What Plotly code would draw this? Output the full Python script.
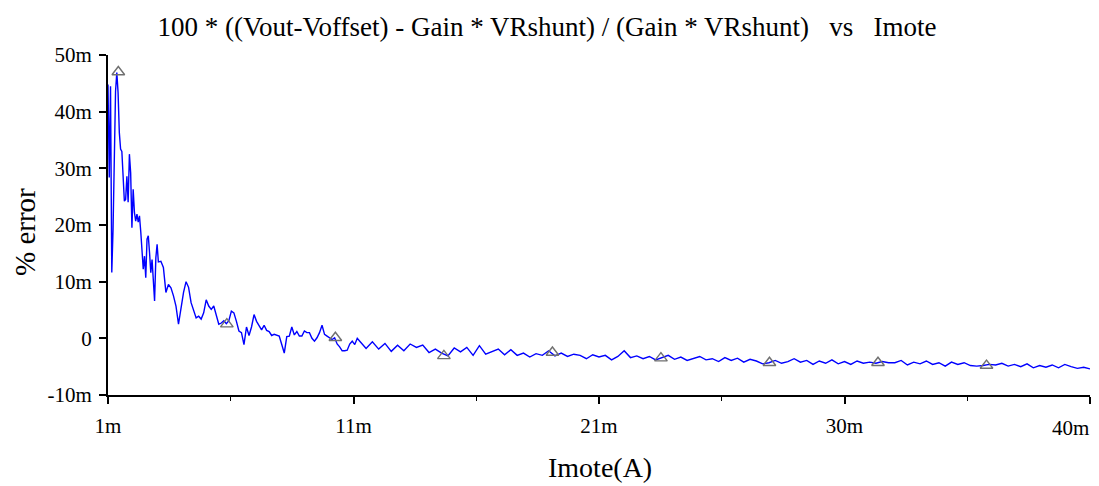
import plotly.graph_objects as go

# Imote sweep (mA) in three segments: start, step
seg_a_start, seg_a_step = 1.0, 0.05
seg_b_start, seg_b_step = 3.1, 0.1
seg_c_start, seg_c_step = 11.25, 0.25

# % error values (in milli-units, "m")
err_a = [44.8, 28.4, 44.5, 11.6, 19.2, 33.0, 43.6, 46.9, 43.4, 36.3,
         33.4, 33.0, 28.6, 24.2, 24.5, 28.6, 24.0, 32.5, 29.2, 19.5,
         26.3, 22.2, 20.7, 21.9, 20.5, 21.6, 18.9, 15.1, 12.2, 14.5,
         10.7, 17.5, 18.1, 15.1, 11.6, 13.9, 9.2, 6.6, 14.2, 16.6, 13.5]

err_b = [13.6, 12.5, 8.1, 9.5, 8.9, 7.5, 5.7, 2.5, 5.7, 8.1,
         10.0, 9.0, 6.3, 5.1, 3.6, 3.9, 3.4, 4.5, 6.8, 5.7,
         5.1, 5.7, 3.9, 2.5, 2.7, 3.1, 2.6, 3.1, 4.8, 4.5,
         3.0, 1.3, 1.0, -1.1, 2.0, 0.5, 2.0, 4.2, 3.0, 2.2,
         1.5, 2.3, 1.4, 1.2, 0.5, 0.7, 0.6, 0.4, -1.1, -2.6,
         0.3, 0.4, 2.0, 0.6, 1.2, 0.4, 0.4, 1.3, 1.0, 1.0,
         0.0, -0.5, 0.1, 1.0, 2.3, 0.7, 0.4, 0.1, -0.2, 0.1,
         -1.0, -1.5, -2.2, -2.2, -2.1, -1.0, -0.5, -1.1, 0.0, -0.5]

err_c = [-1.8, -0.6, -1.9, -0.9, -2.3, -1.2, -2.2, -1.0, -1.6, -1.2,
         -2.5, -1.9, -2.6, -3.1, -1.7, -2.4, -1.6, -3.0, -1.3, -2.8,
         -2.3, -1.9, -2.9, -2.0, -3.0, -2.6, -3.3, -2.7, -3.0, -2.2,
         -3.1, -2.6, -3.2, -2.8, -3.0, -3.6, -2.9, -3.3, -3.0, -3.8,
         -3.2, -2.2, -3.4, -3.1, -3.6, -3.2, -3.8, -3.4, -3.0, -3.7,
         -3.3, -3.9, -3.5, -3.2, -3.8, -3.6, -4.1, -3.4, -3.9, -3.5,
         -4.2, -3.7, -4.0, -4.5, -4.3, -3.9, -4.4, -4.1, -3.6, -4.2,
         -3.9, -4.6, -4.0, -4.4, -3.8, -4.5, -4.1, -4.6, -4.0, -4.4,
         -4.2, -4.4, -4.1, -4.3, -4.3, -3.9, -4.7, -4.2, -4.5, -4.0,
         -4.6, -4.3, -4.9, -4.2, -4.6, -4.3, -4.8, -4.9, -4.8, -4.6,
         -4.7, -4.4, -4.9, -4.6, -5.0, -4.5, -5.2, -4.8, -5.1, -4.7,
         -5.2, -4.6, -5.0, -5.3, -5.1, -5.4]

# Triangle marker positions on the trace
marker_x = [1.41, 5.72, 10.03, 14.34, 18.65, 22.96, 27.27, 31.58, 35.89]
marker_y = [47.0, 2.5, 0.1, -3.1, -2.5, -3.5, -4.3, -4.3, -4.8]

# Axis ticks
x_tickvals = [1, 10.75, 20.5, 30.25, 40]
x_ticktext = ["1m", "11m", "21m", "30m", "40m"]
x_minorvals = [5.875, 15.625, 25.375, 35.125]
y_tickvals = [50, 40, 30, 20, 10, 0, -10]
y_ticktext = ["50m", "40m", "30m", "20m", "10m", "0", "-10m"]

x_a = [round(seg_a_start + seg_a_step * i, 3) for i in range(len(err_a))]
x_b = [round(seg_b_start + seg_b_step * i, 3) for i in range(len(err_b))]
x_c = [round(seg_c_start + seg_c_step * i, 3) for i in range(len(err_c))]
xs = x_a + x_b + x_c
ys = err_a + err_b + err_c

FONT = "Liberation Serif"
OFF = 8                      # default page body margin
W, H = 1099 - OFF, 486 - OFF
L = 108 - OFF
T = 55 - OFF
R = W - (1090 - OFF)
B = H - (395 - OFF)

fig = go.Figure()
fig.add_trace(go.Scatter(x=xs, y=ys, mode="lines",
                         line=dict(color="#0000FF", width=1.4),
                         showlegend=False, hoverinfo="skip"))
fig.add_trace(go.Scatter(x=marker_x, y=marker_y, mode="markers",
                         marker=dict(symbol="triangle-up-open", size=11,
                                     color="#707070", line=dict(width=1.4)),
                         showlegend=False, hoverinfo="skip"))

# last x tick label is drawn separately (shifted left so it stays visible)
x_ticktext_axis = x_ticktext[:-1] + [""]

fig.update_layout(
    width=W, height=H,
    margin=dict(l=L, r=R, t=T, b=B, autoexpand=False),
    paper_bgcolor="white", plot_bgcolor="white",
    font=dict(family=FONT, color="black", size=21),
    title=dict(text="100 * ((Vout-Voffset) - Gain * VRshunt) / (Gain * VRshunt)   vs   Imote",
               x=(547 - OFF) / W, xanchor="center",
               y=1 - (27 - OFF) / H, yanchor="middle",
               xref="container", yref="container",
               font=dict(family=FONT, size=27, color="black")),
    xaxis=dict(range=[1, 40], tickvals=x_tickvals, ticktext=x_ticktext_axis,
               showgrid=False, zeroline=False, showline=True,
               linecolor="black", linewidth=2, ticks="outside",
               ticklen=7, tickwidth=1.5, tickcolor="black",
               automargin=False, ticklabelstandoff=4,
               tickfont=dict(family=FONT, size=21),
               minor=dict(tickvals=x_minorvals,
                          ticks="outside", ticklen=4, tickwidth=1.2,
                          tickcolor="black", showgrid=False)),
    yaxis=dict(range=[-10, 50], tickvals=y_tickvals, ticktext=y_ticktext,
               showgrid=False, zeroline=False, showline=True,
               linecolor="black", linewidth=2, ticks="outside",
               ticklen=7, tickwidth=1.5, tickcolor="black",
               automargin=False, ticklabelstandoff=3,
               tickfont=dict(family=FONT, size=21)),
)

pw, ph = W - L - R, H - T - B


def to_paper(px, py):
    return (px - OFF - L) / pw, 1 - (py - OFF - T) / ph


ax1, ay1 = to_paper(25, 232)
ax2, ay2 = to_paper(600, 468)
ax3, ay3 = to_paper(1091, 428)
fig.add_annotation(text="% error", x=ax1, y=ay1, xref="paper", yref="paper",
                   xanchor="center", yanchor="middle",
                   showarrow=False, textangle=-90,
                   font=dict(family=FONT, size=29))
fig.add_annotation(text="Imote(A)", x=ax2, y=ay2, xref="paper", yref="paper",
                   xanchor="center", yanchor="middle",
                   showarrow=False, font=dict(family=FONT, size=28))
fig.add_annotation(text=x_ticktext[-1], x=ax3, y=ay3, xref="paper", yref="paper",
                   xanchor="right", yanchor="middle",
                   showarrow=False, font=dict(family=FONT, size=21))

fig.write_html("out.html")
